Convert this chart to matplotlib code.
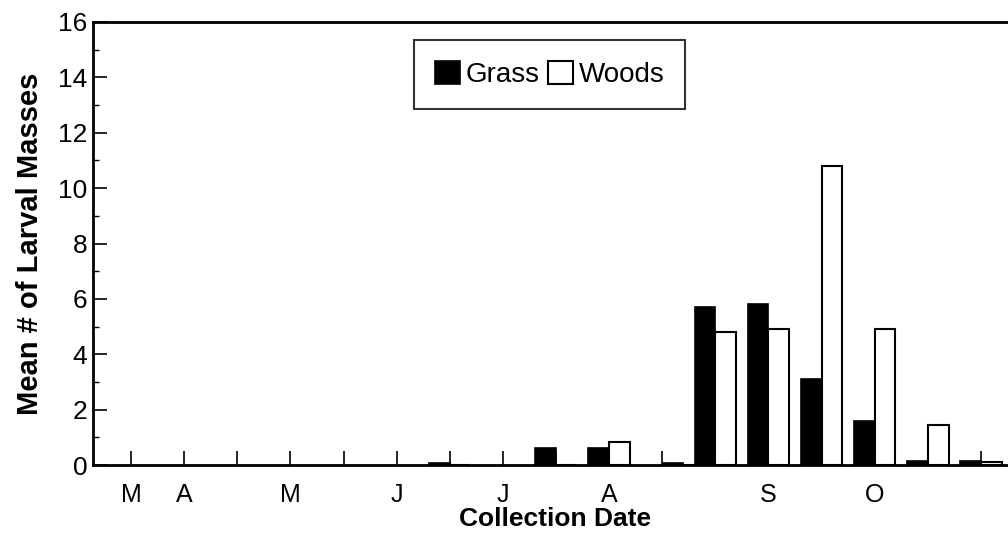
import matplotlib.pyplot as plt
from matplotlib.ticker import MultipleLocator

# collection events (position on the date axis, one unit per tick) and means
positions = [6, 8, 9, 10.4, 11, 12, 13, 14, 15, 16]
grass = [0.08, 0.62, 0.62, 0.07, 5.7, 5.8, 3.1, 1.6, 0.15, 0.15]
woods = [0.0, 0.0, 0.82, 0.0, 4.8, 4.9, 10.8, 4.9, 1.45, 0.12]

month_pos = [0, 1, 3, 5, 7, 9, 12, 14]
month_labels = ['M', 'A', 'M', 'J', 'J', 'A', 'S', 'O']

plt.rcParams['font.family'] = ['Liberation Sans', 'DejaVu Sans']

fig = plt.figure(figsize=(10.08, 5.43), dpi=100)
ax = fig.add_axes([0.0923, 0.1436, 0.9177, 0.8159])

w = 0.39
ax.bar([p - w / 2 for p in positions], grass, width=w, color='black',
       edgecolor='black', linewidth=1.2, label='Grass')
ax.bar([p + w / 2 for p in positions], woods, width=w, color='white',
       edgecolor='black', linewidth=1.5, label='Woods')

ax.set_xlim(-0.716, 16.7)
ax.set_ylim(0, 16)

# y axis
ax.yaxis.set_major_locator(MultipleLocator(2))
ax.yaxis.set_minor_locator(MultipleLocator(1))
ax.tick_params(axis='y', which='major', direction='in', length=10, width=1.2,
               labelsize=19, pad=4)
ax.tick_params(axis='y', which='minor', direction='in', length=4, width=1)

# x axis: tick marks every unit, month letters under some of them
ax.set_xticks(range(17))
ax.set_xticklabels([month_labels[month_pos.index(i)] if i in month_pos else ''
                    for i in range(17)])
ax.tick_params(axis='x', direction='in', length=10, width=1.2,
               labelsize=18, pad=13)

for side in ['left', 'bottom', 'top']:
    ax.spines[side].set_linewidth(2)
ax.spines['right'].set_visible(False)

ax.set_ylabel('Mean # of Larval Masses', fontsize=21, fontweight='bold',
              labelpad=10)
ax.set_xlabel('Collection Date', fontsize=19, fontweight='bold', labelpad=0)

leg = ax.legend(loc='center', bbox_to_anchor=(0.4935, 0.8815), ncol=2,
                fontsize=20, frameon=True, fancybox=False, edgecolor='black',
                handlelength=0.9, handleheight=0.9, handletextpad=0.2,
                columnspacing=0.3, borderpad=0.75, borderaxespad=0)
leg.get_frame().set_linewidth(1.5)

fig.savefig('out.png', dpi=100)
